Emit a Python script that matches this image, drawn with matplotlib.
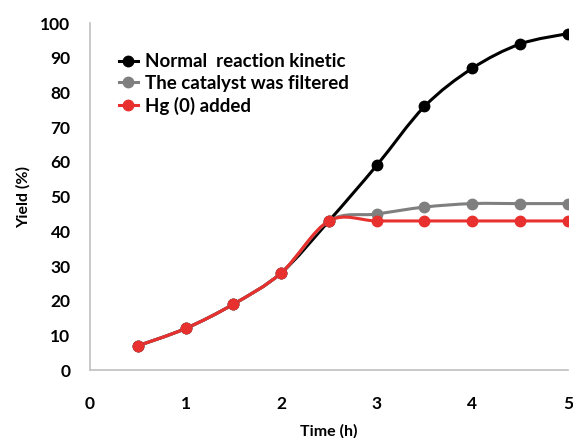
import numpy as np
import matplotlib.pyplot as plt
from matplotlib.path import Path
from matplotlib.patches import PathPatch

time_h = [0.5, 1.0, 1.5, 2.0, 2.5, 3.0, 3.5, 4.0, 4.5, 5.0]
normal_yield = [7, 12, 19, 28, 43, 59, 76, 87, 94, 97]
filtered_yield = [7, 12, 19, 28, 43, 45, 47, 48, 48, 48]
hg_yield = [7, 12, 19, 28, 43, 43, 43, 43, 43, 43]

series = [
    ("Normal  reaction kinetic", normal_yield, "#000000"),
    ("The catalyst was filtered", filtered_yield, "#7f7f7f"),
    ("Hg (0) added", hg_yield, "#e8302e"),
]

plt.rcParams['font.family'] = ['Lato', 'DejaVu Sans']
plt.rcParams['font.weight'] = 'bold'


def smooth_path(x, y):
    # Excel-style smoothed line: Catmull-Rom as cubic Bezier segments
    x = np.asarray(x, float)
    y = np.asarray(y, float)
    px = np.concatenate([[x[0]], x, [x[-1]]])
    py = np.concatenate([[y[0]], y, [y[-1]]])
    verts = [(x[0], y[0])]
    codes = [Path.MOVETO]
    for i in range(1, len(px) - 2):
        c1 = (px[i] + (px[i + 1] - px[i - 1]) / 6, py[i] + (py[i + 1] - py[i - 1]) / 6)
        c2 = (px[i + 1] - (px[i + 2] - px[i]) / 6, py[i + 1] - (py[i + 2] - py[i]) / 6)
        verts += [c1, c2, (px[i + 1], py[i + 1])]
        codes += [Path.CURVE4] * 3
    return Path(verts, codes)


fig = plt.figure(figsize=(5.73, 4.38), dpi=100)
ax = fig.add_axes([0.157, 0.155, 0.834, 0.792])

for label, vals, color in series:
    ax.add_patch(PathPatch(smooth_path(time_h, vals), facecolor="none",
                           edgecolor=color, lw=2.2, zorder=2))
    ax.plot(time_h, vals, "o", color=color, ms=7.5, zorder=3)
    ax.plot([], [], "-o", color=color, lw=2.2, ms=7.5, label=label)

ax.set_xlim(0, 5)
ax.set_ylim(0, 100)
ax.set_xticks(range(0, 6))
ax.set_yticks(range(0, 101, 10))
ax.tick_params(length=0, labelsize=12.5)
ax.tick_params(axis="y", pad=14)
ax.tick_params(axis="x", pad=19)
for lab in ax.get_xticklabels() + ax.get_yticklabels():
    lab.set_fontweight("bold")

for side in ["top", "right"]:
    ax.spines[side].set_visible(False)
for side in ["left", "bottom"]:
    ax.spines[side].set_color("#c0c0c0")
    ax.spines[side].set_linewidth(1.2)

ax.set_xlabel("Time (h)", fontsize=11.5, fontweight="bold", labelpad=8)
ax.set_ylabel("Yield (%)", fontsize=11.5, fontweight="bold", labelpad=7)

ax.legend(loc="upper left", bbox_to_anchor=(0.045, 0.935), frameon=False,
          fontsize=13.5, handlelength=1.0, handletextpad=0.4,
          labelspacing=0.25, borderaxespad=0)

fig.savefig("out.png", dpi=100)
